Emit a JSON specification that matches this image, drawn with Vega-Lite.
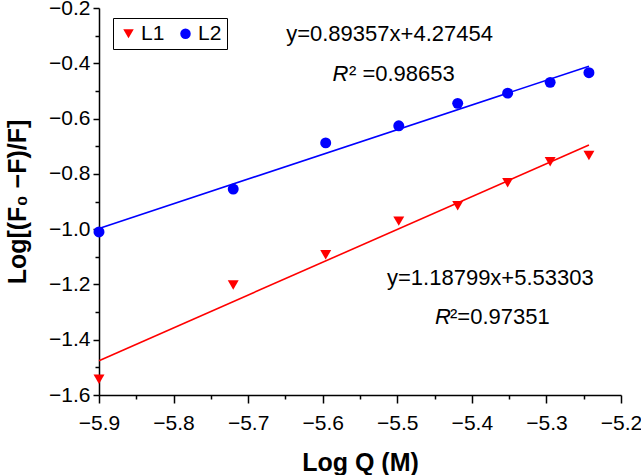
{
  "$schema": "https://vega.github.io/schema/vega-lite/v6.json",
  "width": 522,
  "height": 387,
  "autosize": {"type": "none"},
  "padding": {"left": 99, "top": 8, "right": 20, "bottom": 80},
  "background": "white",
  "config": {
    "view": {"stroke": null},
    "font": "Liberation Sans",
    "legend": {
      "title": null,
      "orient": "none",
      "legendX": 14,
      "legendY": 10,
      "direction": "horizontal",
      "strokeColor": "black",
      "fillColor": "white",
      "padding": 5,
      "labelFont": "Liberation Sans",
      "labelFontSize": 21,
      "labelColor": "black",
      "symbolSize": 110,
      "columnPadding": 10,
      "labelOffset": 2
    }
  },
  "datasets": {
    "points": [
      {"series": "L1", "x": -5.9, "y": -1.543},
      {"series": "L1", "x": -5.72, "y": -1.202},
      {"series": "L1", "x": -5.596, "y": -1.093},
      {"series": "L1", "x": -5.498, "y": -0.971},
      {"series": "L1", "x": -5.419, "y": -0.915},
      {"series": "L1", "x": -5.352, "y": -0.832},
      {"series": "L1", "x": -5.295, "y": -0.756},
      {"series": "L1", "x": -5.243, "y": -0.734},
      {"series": "L2", "x": -5.9, "y": -1.01},
      {"series": "L2", "x": -5.72, "y": -0.855},
      {"series": "L2", "x": -5.596, "y": -0.688},
      {"series": "L2", "x": -5.498, "y": -0.626},
      {"series": "L2", "x": -5.419, "y": -0.545},
      {"series": "L2", "x": -5.352, "y": -0.508},
      {"series": "L2", "x": -5.295, "y": -0.469},
      {"series": "L2", "x": -5.243, "y": -0.434}
    ],
    "fits": [
      {"series": "L1", "x": -5.9, "y": -1.4761},
      {"series": "L1", "x": -5.243, "y": -0.6956},
      {"series": "L2", "x": -5.9, "y": -0.9975},
      {"series": "L2", "x": -5.243, "y": -0.4105}
    ],
    "notes": [
      {"kind": "eq", "text": "y=0.89357x+4.27454", "x": -5.649, "y": -0.294},
      {"kind": "r", "text": "R", "x": -5.587, "y": -0.439},
      {"kind": "val", "text": "² =0.98653", "x": -5.5648, "y": -0.439},
      {"kind": "eq", "text": "y=1.18799x+5.53303", "x": -5.5138, "y": -1.177},
      {"kind": "r", "text": "R", "x": -5.4494, "y": -1.319},
      {"kind": "val", "text": "²=0.97351", "x": -5.4293, "y": -1.319}
    ]
  },
  "encoding": {
    "x": {
      "field": "x",
      "type": "quantitative",
      "scale": {"domain": [-5.9, -5.2], "nice": false, "zero": false},
      "axis": {
        "title": "Log Q (M)",
        "values": [-5.9, -5.85, -5.8, -5.75, -5.7, -5.65, -5.6, -5.55, -5.5, -5.45, -5.4, -5.35, -5.3, -5.25, -5.2],
        "format": ".1f",
        "labelExpr": "abs(datum.value*10-round(datum.value*10))<0.01 ? datum.label : ''",
        "tickSize": {"condition": {"test": "abs(datum.value*10-round(datum.value*10))<0.01", "value": 8}, "value": 4},
        "grid": false,
        "domainColor": "black",
        "domainWidth": 1.5,
        "tickColor": "black",
        "tickWidth": 1.5,
        "labelFont": "Liberation Sans",
        "labelFontSize": 21,
        "labelColor": "black",
        "labelPadding": 9,
        "labelOverlap": false,
        "labelFlush": false,
        "titleFont": "Liberation Sans",
        "titleFontSize": 25,
        "titleFontWeight": "bold",
        "titleColor": "black",
        "titleX": 261,
        "titleY": 67,
        "titleBaseline": "middle",
        "titleAlign": "center"
      }
    },
    "y": {
      "field": "y",
      "type": "quantitative",
      "scale": {"domain": [-1.6, -0.2], "nice": false, "zero": false},
      "axis": {
        "title": "Log[(F₀ −F)/F]",
        "values": [-1.6, -1.5, -1.4, -1.3, -1.2, -1.1, -1.0, -0.9, -0.8, -0.7, -0.6, -0.5, -0.4, -0.3, -0.2],
        "format": ".1f",
        "labelExpr": "abs(datum.value*5-round(datum.value*5))<0.01 ? datum.label : ''",
        "tickSize": {"condition": {"test": "abs(datum.value*5-round(datum.value*5))<0.01", "value": 6}, "value": 4},
        "grid": false,
        "domainColor": "black",
        "domainWidth": 1.5,
        "tickColor": "black",
        "tickWidth": 1.5,
        "labelFont": "Liberation Sans",
        "labelFontSize": 21,
        "labelColor": "black",
        "labelPadding": 3,
        "labelOverlap": false,
        "labelFlush": false,
        "titleFont": "Liberation Sans",
        "titleFontSize": 25,
        "titleFontWeight": "bold",
        "titleColor": "black",
        "titleX": -82,
        "titleY": 193.5,
        "titleAngle": -90,
        "titleBaseline": "middle",
        "titleAlign": "center"
      }
    }
  },
  "layer": [
    {
      "data": {"name": "fits"},
      "transform": [{"filter": "datum.series == 'L1'"}],
      "mark": {"type": "line", "color": "#ff0000", "strokeWidth": 1.6},
      "encoding": {}
    },
    {
      "data": {"name": "fits"},
      "transform": [{"filter": "datum.series == 'L2'"}],
      "mark": {"type": "line", "color": "#0000ff", "strokeWidth": 1.6},
      "encoding": {}
    },
    {
      "data": {"name": "points"},
      "mark": {"type": "point", "filled": true, "opacity": 1, "size": 120},
      "encoding": {
        "color": {"field": "series", "type": "nominal", "scale": {"domain": ["L1", "L2"], "range": ["#ff0000", "#0000ff"]}},
        "shape": {"field": "series", "type": "nominal", "scale": {"domain": ["L1", "L2"], "range": ["triangle-down", "circle"]}}
      }
    },
    {
      "data": {"name": "notes"},
      "transform": [{"filter": "datum.kind == 'eq' || datum.kind == 'val'"}],
      "mark": {"type": "text", "align": "left", "baseline": "middle", "fontSize": 22, "font": "Liberation Sans", "color": "black"},
      "encoding": {"text": {"field": "text"}}
    },
    {
      "data": {"name": "notes"},
      "transform": [{"filter": "datum.kind == 'r'"}],
      "mark": {"type": "text", "align": "left", "baseline": "middle", "fontSize": 22, "font": "Liberation Sans", "fontStyle": "italic", "color": "black"},
      "encoding": {"text": {"field": "text"}}
    }
  ]
}
